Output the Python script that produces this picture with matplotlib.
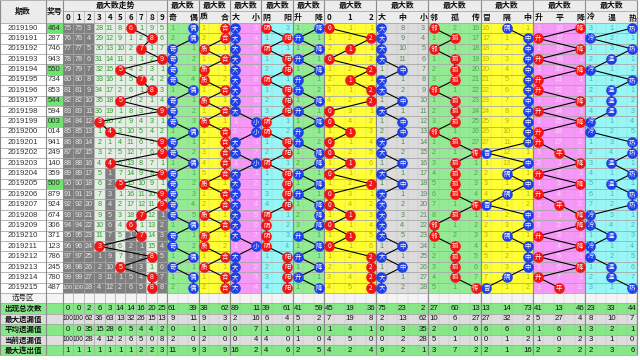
import matplotlib
matplotlib.use("Agg")
import matplotlib.pyplot as plt
from matplotlib.patches import Rectangle

plt.rcParams["font.family"] = ["Liberation Sans Narrow", "Liberation Sans",
                               "Noto Sans CJK SC", "DejaVu Sans"]

# ---- data ----
issues = ["2019190", "2019191", "2019192", "2019193", "2019194", "2019195", "2019196",
          "2019197", "2019198", "2019199", "2019200", "2019201", "2019202", "2019203",
          "2019204", "2019205", "2019206", "2019207", "2019208", "2019209", "2019210",
          "2019211", "2019212", "2019213", "2019214", "2019215"]
draws = ["464", "287", "746", "943", "550", "734", "853", "544", "594", "003", "014",
         "941", "249", "140", "359", "500", "879", "924", "674", "306", "371", "123",
         "786", "245", "780", "487"]
pair_rows = [0, 4, 7, 9, 15]

max_digit = [6, 8, 7, 9, 5, 7, 8, 5, 9, 3, 4, 9, 9, 4, 9, 5, 9, 9, 7, 6, 7, 3, 8, 5, 8, 8]
digit_start = [75, 75, 3, 28, 11, 8, 0, 1, 9, 5]

odd_even = [1, 1, 0, 0, 0, 0, 1, 0, 0, 0, 1, 0, 0, 1, 0, 0, 0, 0, 0, 1, 0, 0, 1, 0, 1, 1]
prime_comp = [1, 1, 0, 1, 0, 0, 1, 0, 1, 0, 1, 1, 1, 1, 1, 0, 1, 1, 0, 1, 0, 0, 1, 0, 1, 1]
big_small = [0, 0, 0, 0, 0, 0, 0, 0, 0, 1, 1, 0, 0, 1, 0, 0, 0, 0, 0, 0, 0, 1, 0, 0, 0, 0]
yin_yang = [0, 1, 0, 1, 1, 0, 1, 1, 1, 0, 0, 1, 1, 0, 1, 1, 1, 1, 0, 0, 0, 0, 1, 1, 1, 1]
up_down = [1, 0, 1, 0, 1, 0, 0, 1, 0, 1, 0, 0, 1, 1, 0, 1, 0, 1, 1, 1, 0, 1, 0, 1, 0, 1]
mod_three = [0, 2, 1, 0, 2, 1, 2, 2, 0, 0, 1, 0, 0, 1, 0, 2, 0, 0, 1, 0, 1, 0, 2, 2, 2, 2]
big_mid_small = [0, 0, 0, 0, 1, 0, 0, 1, 0, 1, 1, 0, 0, 1, 0, 1, 0, 0, 0, 0, 0, 1, 0, 1, 0, 0]
near_lone_repeat = [0, 1, 0, 1, 1, 1, 0, 1, 1, 1, 0, 1, 2, 1, 1, 1, 1, 2, 1, 0, 0, 1, 1, 1, 1, 2]
skip_gap_hit = [1, 2, 2, 2, 2, 2, 2, 2, 2, 2, 2, 2, 0, 2, 1, 2, 1, 0, 2, 2, 1, 2, 2, 2, 1, 0]
rise_flat_fall = [2, 0, 2, 0, 2, 0, 0, 2, 0, 2, 0, 0, 1, 2, 0, 2, 0, 1, 2, 2, 0, 2, 0, 2, 0, 1]
cold_warm_hot = [2, 0, 2, 1, 0, 2, 1, 1, 1, 0, 0, 2, 2, 1, 2, 1, 2, 2, 0, 0, 1, 0, 0, 1, 1, 2]

stat_labels = ["出现总次数", "最大遗漏值", "平均遗漏值", "当前遗漏值", "最大连出值"]
appear = [0, 0, 2, 6, 3, 14, 14, 16, 20, 25, 61, 39, 38, 62, 89, 11, 39, 61, 41, 59,
          45, 19, 36, 75, 23, 2, 27, 60, 13, 13, 14, 73, 41, 13, 46, 23, 33, 44]
max_miss = [100, 100, 62, 36, 63, 13, 32, 26, 15, 13, 9, 11, 9, 3, 2, 16, 6, 4, 5, 2,
            7, 19, 8, 2, 13, 62, 10, 6, 27, 27, 32, 2, 5, 27, 4, 8, 10, 7]
avg_miss = [0, 0, 35, 15, 28, 6, 5, 4, 4, 2, 0, 1, 1, 0, 0, 7, 1, 0, 1, 0,
            1, 4, 1, 0, 3, 35, 2, 0, 6, 6, 6, 0, 1, 6, 1, 3, 2, 1]
cur_miss = [100, 100, 28, 4, 12, 2, 6, 5, 0, 8, 2, 0, 2, 0, 0, 4, 4, 0, 1, 0,
            4, 5, 0, 0, 2, 28, 5, 1, 0, 0, 1, 2, 1, 0, 2, 3, 1, 0]
max_run = [1, 1, 1, 1, 1, 1, 1, 2, 2, 3, 11, 9, 3, 9, 16, 2, 4, 6, 2, 5,
           4, 2, 4, 9, 2, 1, 3, 7, 2, 2, 1, 16, 2, 2, 2, 2, 3, 6]

GREEN, YELLOW, PINK, CYAN, GREY = "#93ec93", "#ffff33", "#f797f7", "#97f7f7", "#dcdcdc"
RED, BLUE = "#f01616", "#2040e8"
TEXT_ON = {GREEN: "#4aa84a", YELLOW: "#bfb000", PINK: "#fbd4fb", CYAN: "#4fb0b0", GREY: "#4e8e4e"}
CJK = ["Noto Sans CJK SC", "DejaVu Sans"]

# labels, hits, start omission, background, ball colour
groups = [
    (["奇", "偶"], odd_even, [1, 0], GREEN, BLUE),
    (["质", "合"], prime_comp, [1, 0], YELLOW, RED),
    (["大", "小"], big_small, [0, 3], PINK, BLUE),
    (["阴", "阳"], yin_yang, [0, 3], CYAN, RED),
    (["升", "降"], up_down, [1, 0], GREEN, BLUE),
    (["0", "1", "2"], mod_three, [0, 1, 1], YELLOW, RED),
    (["大", "中", "小"], big_mid_small, [0, 8, 3], GREY, BLUE),
    (["邻", "孤", "传"], near_lone_repeat, [0, 2, 16], GREEN, RED),
    (["冒", "隔", "中"], skip_gap_hit, [16, 0, 1], YELLOW, BLUE),
    (["升", "平", "降"], rise_flat_fall, [1, 16, 0], PINK, RED),
    (["冷", "温", "热"], cold_warm_hot, [3, 1, 0], CYAN, BLUE),
]


def miss_table(hits, start):
    cur = list(start)
    table = []
    for i, h in enumerate(hits):
        if i > 0:
            cur = [c + 1 for c in cur]
        cur[h] = 0
        table.append(list(cur))
    return table


def num_size(v, base):
    return base - 0.8 if v >= 100 else base


n = len(issues)
fig = plt.figure(figsize=(6.4, 3.6), dpi=100)
ax = fig.add_axes([0, 0, 1, 1])
ax.set_xlim(0, 61.24)
ax.set_ylim(32.45, -2.2)
ax.set_axis_off()

line_c = "#a8a8a8"
num_fs = 5.2
ball_s = 58


def cell(x0, y0, w, h, fc):
    ax.add_patch(Rectangle((x0, y0), w, h, facecolor=fc, edgecolor="none", zorder=0))


# header
cell(0, -2.2, 61, 2.2, "#ececec")
hdr = dict(fontsize=5.7, fontweight="bold", ha="center", va="center", color="#111111",
           family=CJK)
ax.text(2.2, -1.1, "期数", **hdr)
ax.text(5.2, -1.1, "奖号", **hdr)
ax.text(11, -1.65, "最大数走势", **hdr)
for d in range(10):
    ax.text(6.5 + d, -0.55, str(d), **hdr)

# left columns
for i in range(n):
    ax.text(2.2, i + 0.5, issues[i], fontsize=5.6, ha="center", va="center", color="#333333")
    if i in pair_rows:
        cell(4.4, i, 1.6, 1, "#6fe46f")
    ax.text(5.2, i + 0.5, draws[i], fontsize=5.6, ha="center", va="center", color="#333333")

# digit columns
cell(6, 0, 10, n, "#e4efe4")
digit_hits = max_digit
dig_miss = miss_table(digit_hits, digit_start)
last_seen = {d: -1 for d in range(10)}
for i, h in enumerate(digit_hits):
    last_seen[h] = i
for d in range(10):
    for i in range(n):
        dark = i > last_seen[d]
        if dark:
            cell(6 + d, i, 1, 1, "#7f7f7f")
        if digit_hits[i] != d:
            v = dig_miss[i][d]
            ax.text(6.5 + d, i + 0.5, str(v), fontsize=num_size(v, num_fs), ha="center",
                    va="center", color="#e6e6e6" if dark else "#2f9a2f", zorder=2)
dx = [6.5 + h for h in digit_hits]
dy = [i + 0.5 for i in range(n)]
ax.plot(dx, dy, color="black", lw=0.8, zorder=3)
ax.scatter(dx, dy, s=ball_s, color=RED, zorder=4, linewidths=0)
for x, y, h in zip(dx, dy, digit_hits):
    ax.text(x, y, str(h), fontsize=5, color="white", ha="center", va="center", zorder=5)

# group columns
starts = []
x0 = 16
for labels, hits, start, bg, bc in groups:
    k = len(labels)
    width = 2 * k - 1
    starts.append(x0)
    cell(x0, 0, width, n, bg)
    ax.text(x0 + width / 2, -1.65, "最大数", **hdr)
    cols = [x0 + 0.5 + 2 * j for j in range(k)]
    for j, lab in enumerate(labels):
        ax.text(cols[j], -0.55, lab, **hdr)
    table = miss_table(hits, start)
    for i in range(n):
        for j in range(k):
            if hits[i] != j:
                ax.text(cols[j], i + 0.5, str(table[i][j]), fontsize=num_fs, ha="center",
                        va="center", color=TEXT_ON[bg], zorder=2)
    gx = [cols[h] for h in hits]
    ax.plot(gx, dy, color="black", lw=0.8, zorder=3)
    ax.scatter(gx, dy, s=ball_s, color=bc, zorder=4, linewidths=0)
    for x, y, h in zip(gx, dy, hits):
        ax.text(x, y, labels[h], fontsize=4.6, color="white", ha="center", va="center",
                zorder=5, family=CJK)
    x0 += width

# 选号区 row
cell(0, n, 61, 1, "#f4f4f4")
ax.text(2.2, n + 0.5, "选号区", fontsize=5.4, ha="center", va="center", color="#222222",
        family=CJK)

# stats rows
col_x = [6.5 + d for d in range(10)]
for (labels, hits, start, bg, bc), s0 in zip(groups, starts):
    col_x += [s0 + 0.5 + 2 * j for j in range(len(labels))]
stat_rows = [appear, max_miss, avg_miss, cur_miss, max_run]
for r, (lab, vals) in enumerate(zip(stat_labels, stat_rows)):
    y = n + 1 + r
    cell(0, y, 61, 1, "#86e886" if r % 2 == 0 else "#dedede")
    ax.text(2.2, y + 0.5, lab, fontsize=5.4, fontweight="bold", ha="center", va="center",
            color="#111111", family=CJK)
    for x, v in zip(col_x, vals):
        ax.text(x, y + 0.5, str(v), fontsize=num_size(v, 5.6), ha="center", va="center",
                color="#111111")

# grid
total = n + 6
ax.hlines([-1.1], 6, 61, color=line_c, lw=0.6, zorder=1)
ax.hlines(range(0, total + 1), 0, 61, color=line_c, lw=0.6, zorder=1)
ax.hlines([-2.2], 0, 61, color=line_c, lw=0.6, zorder=1)
ax.vlines([6 + d for d in range(11)], -1.1, total, color=line_c, lw=0.5, zorder=1)
ax.vlines(range(16, 62), 0, total, color=line_c, lw=0.3, zorder=1, alpha=0.6)
ax.vlines([0, 4.4, 6] + starts + [61], -2.2, total, color="#8a8a8a", lw=0.8, zorder=1)

fig.savefig("out.png", dpi=100)
